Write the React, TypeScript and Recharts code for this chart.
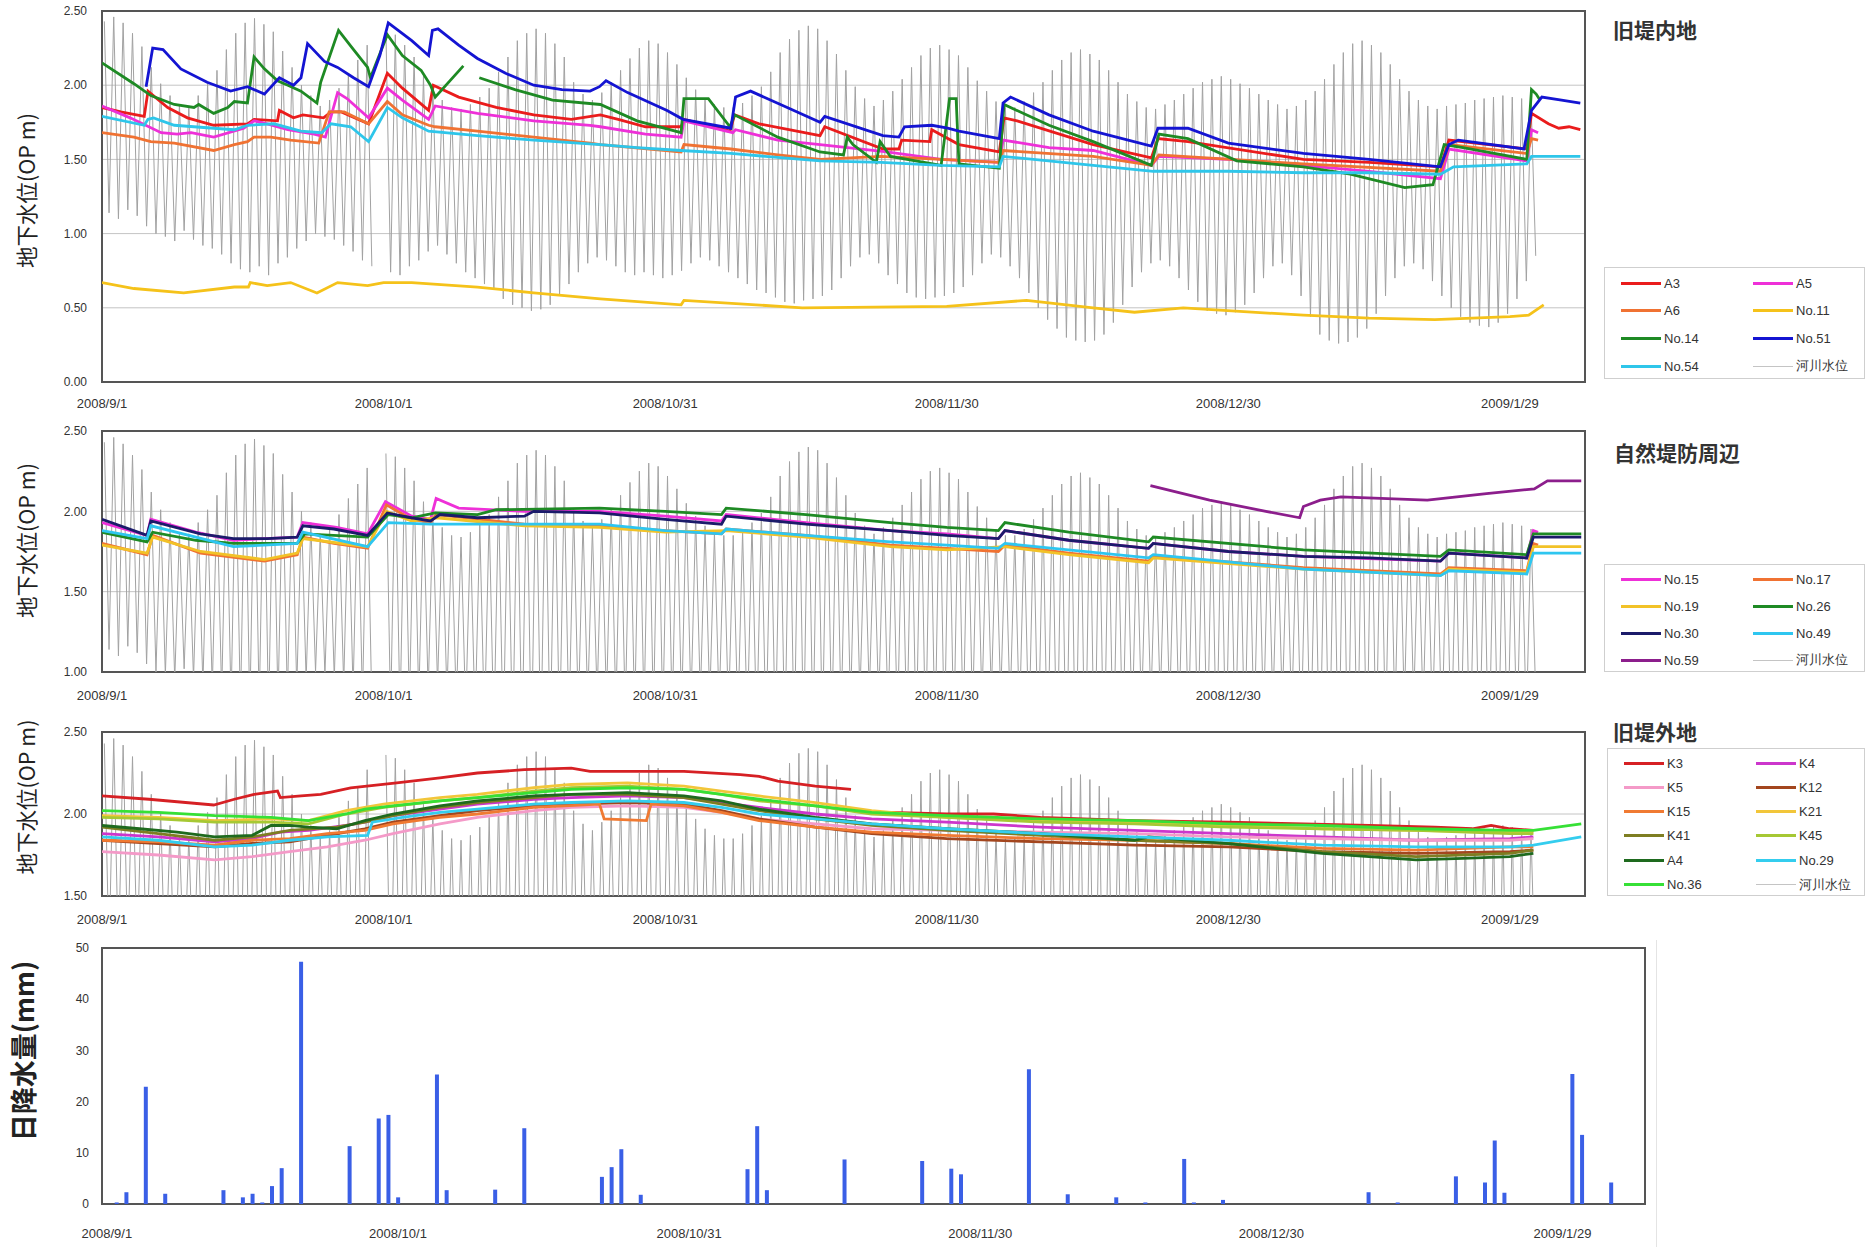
import React from 'react';
import { LineChart, Line, XAxis, YAxis, CartesianGrid, ReferenceArea, BarChart, Bar } from 'recharts';

// ---------- axis labels ----------
const dateTicks = [0, 30, 60, 90, 120, 150];
const dateLabels = ['2008/9/1', '2008/10/1', '2008/10/31', '2008/11/30', '2008/12/30', '2009/1/29'];
const yTicks1 = [0, 0.5, 1, 1.5, 2, 2.5];
const yTicks2 = [1, 1.5, 2, 2.5];
const yTicks3 = [1.5, 2, 2.5];
const rainTicks = [0, 10, 20, 30, 40, 50];

// ---------- river level (daily high / low, OP m), days 0..152 (day 29 missing) ----------
const riverHigh = [
  2.43, 2.46, 2.42, 2.35, 2.26, 2.12, 2.01, 1.93, 1.87, 1.86,
  1.93, 2.01, 2.10, 2.24, 2.35, 2.42, 2.45, 2.41, 2.36, 2.23,
  2.12, 2.00, 1.93, 1.86, 1.90, 1.98, 2.08, 2.17, 2.27, null,
  2.36, 2.34, 2.27, 2.19, 2.06, 1.98, 1.90, 1.85, 1.84, 1.87,
  1.92, 1.98, 2.09, 2.19, 2.30, 2.35, 2.38, 2.35, 2.28, 2.19,
  2.02, 1.94, 1.90, 1.95, 2.02, 2.10, 2.18, 2.25, 2.30, 2.28,
  2.22, 2.14, 2.05, 1.97, 1.91, 1.87, 1.85, 1.85, 1.88, 1.93,
  1.99, 2.09, 2.22, 2.31, 2.37, 2.40, 2.38, 2.30, 2.21, 2.10,
  1.99, 1.91, 1.86, 1.90, 1.96, 2.04, 2.12, 2.20, 2.25, 2.27,
  2.24, 2.20, 2.12, 2.03, 1.96, 1.89, 1.85, 1.85, 1.89, 1.95,
  2.02, 2.10, 2.17, 2.22, 2.24, 2.21, 2.17, 2.10, 2.02, 1.94,
  1.89, 1.85, 1.84, 1.87, 1.90, 1.94, 1.98, 2.02, 2.04, 2.06,
  2.04, 2.01, 1.98, 1.94, 1.90, 1.87, 1.84, 1.86, 1.90, 1.96,
  2.04, 2.14, 2.22, 2.28, 2.30, 2.27, 2.22, 2.14, 2.04, 1.96,
  1.90, 1.86, 1.84, 1.86, 1.87, 1.88, 1.90, 1.91, 1.92, 1.93,
  1.92, 1.91, 1.89,
];
const riverLow = [
  1.14, 1.10, 1.16, 1.12, 1.05, 1.00, 0.98, 0.95, 1.02, 0.96,
  0.92, 0.90, 0.86, 0.80, 0.76, 0.74, 0.78, 0.72, 0.80, 0.84,
  0.90, 0.95, 1.00, 0.98, 0.96, 0.92, 0.88, 0.82, 0.78, null,
  0.74, 0.72, 0.78, 0.82, 0.88, 0.92, 0.86, 0.80, 0.74, 0.70,
  0.66, 0.62, 0.56, 0.52, 0.50, 0.48, 0.49, 0.52, 0.58, 0.66,
  0.74, 0.80, 0.84, 0.82, 0.78, 0.74, 0.72, 0.74, 0.72, 0.70,
  0.72, 0.75, 0.80, 0.84, 0.82, 0.78, 0.74, 0.70, 0.66, 0.62,
  0.60, 0.57, 0.54, 0.53, 0.55, 0.56, 0.58, 0.62, 0.70, 0.78,
  0.84, 0.86, 0.80, 0.72, 0.66, 0.60, 0.57, 0.56, 0.57, 0.58,
  0.60, 0.64, 0.72, 0.80, 0.86, 0.84, 0.78, 0.70, 0.60, 0.50,
  0.42, 0.36, 0.30, 0.28, 0.27, 0.28, 0.32, 0.40, 0.52, 0.64,
  0.74, 0.80, 0.82, 0.78, 0.70, 0.62, 0.54, 0.48, 0.46, 0.45,
  0.47, 0.52, 0.60, 0.70, 0.78, 0.80, 0.72, 0.58, 0.44, 0.32,
  0.28, 0.26, 0.27, 0.30, 0.36, 0.46, 0.58, 0.70, 0.78, 0.80,
  0.76, 0.68, 0.58, 0.50, 0.44, 0.40, 0.38, 0.37, 0.40, 0.46,
  0.56, 0.68, 0.85,
];

// ---------- panel 1: 旧堤内地 ([day, OP m]) ----------
const A3 = [[0,1.85],[2,1.82],[4.5,1.79],[4.9,1.96],[7,1.85],[9.1,1.78],[11.9,1.73],[15.5,1.74],[16.2,1.77],[18.7,1.76],[18.9,1.83],[20.4,1.78],[21.4,1.8],[23.6,1.78],[24.4,1.82],[25.5,1.82],[28.4,1.74],[30.4,2.08],[32,1.98],[34.8,1.83],[35.3,2.0],[38,1.92],[42,1.85],[46,1.8],[50,1.77],[53.1,1.8],[55,1.77],[57.9,1.72],[61.7,1.72],[62,1.77],[66.9,1.69],[67.4,1.8],[70,1.74],[76.5,1.66],[77,1.72],[83.2,1.57],[84.9,1.57],[85.2,1.63],[88.2,1.62],[88.4,1.7],[91.3,1.6],[95.6,1.55],[96.1,1.78],[97.5,1.76],[105.6,1.6],[111.8,1.51],[112.5,1.64],[115.7,1.62],[128,1.5],[135,1.48],[142.6,1.45],[143.5,1.63],[151.8,1.57],[152.3,1.81],[154.1,1.74],[155.2,1.71],[156.3,1.72],[157.5,1.7]];
const A5 = [[0,1.86],[3,1.78],[6.3,1.68],[8,1.67],[9.5,1.68],[11.9,1.65],[15.1,1.71],[16.2,1.76],[17.6,1.74],[19.8,1.7],[22.6,1.67],[23.8,1.65],[25.1,1.95],[26.1,1.91],[28.4,1.78],[30.4,1.98],[32,1.9],[34.8,1.77],[35.5,1.86],[40,1.81],[46,1.76],[52,1.73],[53.1,1.72],[57.9,1.67],[61.7,1.65],[62,1.76],[67.2,1.68],[67.5,1.7],[72,1.63],[76.5,1.6],[83.6,1.55],[89.4,1.5],[95.6,1.48],[96,1.63],[100.9,1.58],[105.6,1.56],[111.8,1.46],[112.6,1.52],[120,1.5],[128,1.46],[135,1.42],[142.6,1.37],[143.5,1.57],[151.8,1.49],[152.3,1.7],[153,1.68]];
const A6 = [[0,1.68],[3.4,1.65],[5.2,1.62],[7.7,1.61],[11.9,1.56],[14.1,1.6],[15.5,1.62],[16.2,1.65],[18,1.65],[20.1,1.63],[23.1,1.61],[24.2,1.82],[25.8,1.82],[28.4,1.74],[30.4,1.89],[32,1.8],[34.8,1.73],[35.5,1.72],[40,1.69],[46,1.65],[52,1.61],[53.1,1.6],[61.7,1.55],[62,1.6],[67,1.57],[72,1.53],[76.5,1.5],[83,1.52],[89.4,1.5],[95.6,1.48],[96,1.56],[105.6,1.52],[111.8,1.46],[112.6,1.53],[128,1.47],[142.6,1.42],[143.5,1.6],[151.8,1.54],[152.3,1.64],[153,1.63]];
const No11 = [[0,0.67],[3.4,0.63],[8.7,0.6],[14.1,0.64],[15.6,0.64],[15.8,0.67],[17.6,0.65],[20.1,0.67],[22.9,0.6],[25.1,0.67],[28.3,0.65],[30,0.67],[33,0.67],[40,0.64],[46,0.6],[53.1,0.56],[61.7,0.52],[62,0.55],[74.6,0.5],[90,0.51],[98.5,0.55],[105.6,0.5],[110,0.47],[115.2,0.5],[128,0.45],[135,0.43],[142,0.42],[150,0.44],[152,0.45],[153.6,0.52]];
const No14 = [[0,2.15],[3.4,2.01],[5.2,1.93],[7.7,1.87],[9.8,1.85],[10.3,1.87],[11.9,1.81],[13.4,1.85],[14.1,1.89],[15.5,1.88],[16.2,2.19],[17.3,2.11],[18.7,2.03],[19.8,2.0],[21.2,1.96],[22.9,1.88],[23.3,2.02],[25.2,2.37],[26.8,2.24],[28.3,2.12],[28.6,2.05],[30.4,2.34],[32,2.2],[34,2.1],[35,2.0],[35.5,1.92],[38.5,2.13],[39,null],[40.2,2.05],[44,1.97],[48,1.9],[53.1,1.87],[57,1.76],[61.7,1.68],[62,1.91],[64.6,1.91],[66.9,1.72],[67.4,1.8],[72,1.65],[76.5,1.55],[79,1.53],[79.4,1.65],[80,1.6],[82.5,1.48],[82.9,1.62],[84,1.52],[89.4,1.46],[90.3,1.91],[91,1.91],[91.3,1.47],[95.6,1.44],[96.1,1.87],[100.9,1.73],[105.6,1.62],[111.8,1.46],[112.6,1.67],[115.7,1.64],[120.9,1.49],[128,1.45],[133,1.4],[138.8,1.31],[141.8,1.33],[143,1.6],[145,1.58],[151.8,1.5],[152.3,1.97],[152.8,1.94],[153.2,1.9]];
const No51 = [[4.7,1.99],[5.4,2.25],[6.5,2.24],[8.4,2.11],[11.2,2.02],[13.7,1.96],[15.5,1.99],[17.3,1.94],[18.9,2.05],[20.4,2.0],[21.2,2.05],[21.9,2.28],[23.7,2.16],[25.1,2.12],[26.8,2.05],[28.4,1.99],[29.6,2.2],[30.5,2.42],[33,2.3],[34.8,2.2],[35.2,2.37],[35.8,2.38],[38,2.27],[40,2.18],[43,2.08],[46,2.0],[49,1.97],[52,1.96],[53,1.99],[53.7,2.03],[56,1.95],[60.2,1.83],[61.9,1.77],[67,1.71],[67.5,1.92],[69.1,1.96],[73,1.85],[76.5,1.75],[77,1.79],[83.2,1.66],[84.9,1.65],[85.5,1.72],[88.4,1.73],[90.1,1.71],[91.3,1.69],[95.6,1.64],[96,1.88],[96.8,1.92],[100.9,1.8],[105.6,1.69],[111.8,1.59],[112.5,1.71],[115.7,1.71],[120,1.61],[128,1.54],[135,1.5],[142.6,1.45],[143.5,1.6],[144.5,1.63],[151.5,1.57],[152.3,1.83],[153.4,1.92],[155.5,1.9],[157.5,1.88]];
const No54 = [[0,1.79],[4.5,1.73],[4.9,1.77],[5.5,1.78],[7.7,1.73],[11.9,1.71],[14.1,1.7],[15.5,1.73],[18.3,1.74],[21.2,1.69],[23.4,1.68],[24.4,1.74],[26.5,1.72],[28.4,1.62],[30.4,1.85],[32,1.78],[34.8,1.69],[40,1.66],[46,1.63],[53.1,1.6],[57,1.58],[61.7,1.56],[67,1.54],[76.5,1.49],[83,1.48],[89.4,1.46],[95.6,1.45],[96,1.52],[105.6,1.46],[112,1.42],[120,1.42],[128,1.41],[135,1.41],[142.6,1.4],[144,1.45],[151.8,1.47],[152.3,1.52],[157.5,1.52]];

// ---------- panel 2: 自然堤防周辺 ----------
const No15 = [[0,1.93],[4.8,1.85],[5.2,1.95],[10,1.87],[14,1.82],[20.8,1.84],[21.4,1.93],[25,1.9],[28.3,1.86],[30.2,2.06],[33,1.97],[35,1.95],[35.6,2.08],[38,2.02],[45,2.0],[53,2.0],[60,1.97],[66,1.94],[66.5,1.98],[75,1.93],[84,1.88],[90,1.86],[95.5,1.83],[96.2,1.88],[103,1.82],[111.5,1.77],[112,1.8],[120,1.75],[128,1.72],[142.6,1.69],[143.5,1.74],[151.8,1.71],[152.5,1.88],[153,1.87]];
const No17 = [[0,1.8],[4.8,1.73],[5.4,1.85],[10.5,1.74],[17.3,1.69],[20.8,1.73],[21.4,1.84],[24.7,1.8],[28.3,1.77],[30.3,2.04],[33,1.95],[35,1.93],[35.6,1.98],[45,1.92],[53,1.91],[60,1.88],[66,1.86],[66.5,1.89],[75,1.85],[84,1.79],[90,1.77],[95.5,1.75],[96.2,1.79],[103,1.74],[111.5,1.69],[112,1.72],[128,1.65],[142.6,1.61],[143.5,1.65],[151.8,1.63],[152.5,1.8],[153,1.79]];
const No19 = [[0,1.79],[4.8,1.74],[5.4,1.84],[10.5,1.75],[17.3,1.7],[20.8,1.74],[21.4,1.83],[28.3,1.78],[30.3,2.0],[33,1.94],[35.6,1.96],[45,1.91],[53,1.9],[60,1.87],[66.5,1.88],[75,1.84],[84,1.78],[90,1.76],[96.2,1.78],[103,1.73],[111.5,1.68],[112,1.71],[128,1.64],[142.6,1.6],[143.5,1.64],[151.8,1.62],[152.5,1.78],[157.6,1.78]];
const No26 = [[0,1.87],[4.8,1.81],[5.4,1.87],[10,1.82],[14,1.8],[20.8,1.8],[21.6,1.86],[28.3,1.84],[30.5,1.98],[33,1.96],[35.5,1.99],[40,1.98],[42,2.01],[53,2.02],[60,2.0],[66,1.98],[66.5,2.02],[75,1.98],[84,1.93],[90,1.9],[95.5,1.88],[96.2,1.93],[103,1.87],[111.5,1.81],[112,1.84],[128,1.76],[142.6,1.72],[143.5,1.76],[151.8,1.73],[152.5,1.86],[157.6,1.86]];
const No30 = [[0,1.95],[4.8,1.85],[5.2,1.94],[10.5,1.86],[14,1.83],[17.6,1.83],[20.8,1.84],[21.4,1.91],[24.7,1.89],[28.3,1.85],[30.4,1.99],[33,1.96],[35,1.94],[36,1.98],[40,1.96],[45,1.97],[46,2.0],[53,1.99],[60,1.95],[66,1.92],[66.5,1.97],[75,1.92],[84,1.88],[90,1.85],[95.5,1.83],[96.2,1.88],[103,1.82],[111.5,1.77],[112,1.8],[120,1.75],[128,1.72],[135,1.71],[142.6,1.69],[143.5,1.74],[151.8,1.71],[152.5,1.84],[157.6,1.84]];
const No49 = [[0,1.88],[4.8,1.83],[5.2,1.91],[14,1.78],[20.8,1.8],[21.4,1.87],[28.3,1.78],[30.5,1.93],[35,1.92],[45,1.92],[53,1.92],[60,1.88],[66,1.86],[66.5,1.89],[75,1.85],[84,1.81],[90,1.79],[95.5,1.77],[96.2,1.8],[111.5,1.71],[112,1.73],[128,1.64],[142.6,1.6],[143.5,1.63],[151.8,1.61],[152.5,1.74],[157.6,1.74]];
const No59 = [[111.7,2.16],[118,2.07],[124,2.0],[127.6,1.96],[128,2.03],[129.8,2.07],[132,2.09],[141.2,2.07],[147.5,2.11],[152.6,2.14],[154,2.19],[157.6,2.19]];

// ---------- panel 3: 旧堤外地 ----------
const K3 = [[0,2.11],[5,2.09],[11.9,2.055],[14.1,2.09],[16.2,2.12],[18.7,2.14],[19,2.1],[21.2,2.11],[23.3,2.12],[26.5,2.16],[31.4,2.19],[36,2.22],[40,2.25],[45,2.27],[50,2.28],[52,2.26],[56,2.26],[62,2.26],[68,2.24],[70,2.23],[72,2.2],[76,2.17],[79.8,2.15],[82,null],[84,2.01],[90,2.0],[95,2.0],[100,1.98],[110,1.96],[120,1.95],[128,1.94],[135,1.93],[142,1.92],[146,1.91],[148,1.93],[150,1.91],[152.5,1.9]];
const K4 = [[0,1.88],[6,1.86],[12,1.83],[16,1.85],[19,1.89],[22,1.9],[26,1.93],[28,1.95],[31,1.99],[36,2.03],[40,2.06],[46,2.09],[50,2.1],[56,2.11],[62,2.1],[66,2.07],[70,2.04],[76,2.0],[82,1.97],[90,1.95],[100,1.92],[110,1.9],[120,1.88],[130,1.86],[140,1.84],[150,1.85],[152.5,1.86]];
const K5 = [[0,1.77],[6,1.75],[12,1.72],[16,1.74],[20,1.77],[24,1.8],[28,1.84],[31,1.88],[36,1.94],[40,1.98],[46,2.02],[50,2.04],[56,2.05],[62,2.04],[66,2.01],[70,1.97],[76,1.94],[82,1.91],[90,1.9],[100,1.89],[110,1.88],[120,1.86],[130,1.85],[140,1.84],[150,1.84],[152.5,1.85]];
const K12 = [[0,1.84],[6,1.82],[12,1.8],[16,1.82],[20,1.83],[24,1.87],[28,1.91],[31,1.95],[36,1.99],[40,2.02],[46,2.05],[50,2.06],[56,2.07],[62,2.06],[66,2.02],[70,1.97],[76,1.92],[82,1.88],[90,1.85],[100,1.83],[110,1.81],[120,1.8],[130,1.77],[140,1.76],[150,1.77],[152.5,1.78]];
const K15 = [[0,1.84],[6,1.83],[12,1.81],[16,1.84],[20,1.85],[24,1.88],[28,1.9],[31,1.94],[36,1.98],[40,2.0],[46,2.04],[53,2.06],[53.5,1.97],[58,1.96],[58.5,2.06],[62,2.05],[66,2.01],[70,1.96],[76,1.92],[82,1.89],[90,1.87],[100,1.85],[110,1.84],[120,1.82],[130,1.79],[140,1.78],[150,1.8],[152.5,1.8]];
const K21 = [[0,1.99],[6,1.98],[12,1.96],[18,1.97],[22,1.96],[26,2.02],[30,2.06],[36,2.1],[40,2.12],[46,2.16],[50,2.18],[56,2.19],[62,2.17],[66,2.14],[70,2.11],[76,2.07],[82,2.02],[90,1.98],[100,1.96],[110,1.95],[120,1.93],[130,1.91],[140,1.9],[150,1.89],[152.5,1.89]];
const K41 = [[0,1.92],[6,1.88],[12,1.84],[16,1.86],[20,1.9],[25,1.92],[28,1.95],[31,1.99],[36,2.04],[40,2.07],[46,2.1],[50,2.12],[56,2.12],[62,2.1],[66,2.06],[70,2.02],[76,1.97],[82,1.93],[90,1.9],[100,1.87],[110,1.84],[120,1.82],[130,1.77],[140,1.74],[150,1.76],[152.5,1.78]];
const K45 = [[0,1.98],[6,1.97],[12,1.95],[18,1.95],[22,1.94],[26,2.0],[30,2.04],[36,2.08],[40,2.1],[46,2.14],[50,2.16],[56,2.17],[62,2.15],[66,2.12],[70,2.08],[76,2.05],[82,2.0],[90,1.98],[100,1.95],[110,1.94],[120,1.92],[130,1.91],[140,1.9],[150,1.88],[152.5,1.88]];
const A4 = [[0,1.93],[4,1.91],[8,1.89],[12,1.86],[16,1.87],[18,1.93],[20,1.93],[22,1.92],[25,1.91],[28,1.96],[31,2.0],[36,2.05],[40,2.08],[46,2.11],[50,2.12],[56,2.13],[62,2.11],[66,2.08],[70,2.03],[76,1.98],[82,1.94],[90,1.91],[100,1.88],[110,1.84],[111.5,1.86],[120,1.82],[130,1.76],[140,1.72],[145,1.73],[150,1.74],[152.5,1.76]];
const No29 = [[0,1.86],[6,1.84],[12,1.8],[16,1.81],[20,1.84],[24,1.86],[28.3,1.87],[28.8,1.95],[32,1.98],[36,2.01],[40,2.03],[46,2.06],[50,2.07],[56,2.08],[62,2.07],[66,2.04],[70,2.0],[76,1.97],[82,1.94],[90,1.91],[100,1.88],[110,1.86],[120,1.84],[130,1.81],[140,1.8],[150,1.8],[152.5,1.81],[157.6,1.86]];
const No36 = [[0,2.02],[6,2.01],[12,1.99],[18,1.98],[22,1.96],[26,2.0],[28,2.03],[31,2.05],[36,2.08],[40,2.1],[46,2.13],[50,2.15],[56,2.16],[62,2.15],[66,2.12],[70,2.09],[76,2.05],[82,2.01],[90,1.99],[100,1.97],[110,1.96],[120,1.94],[130,1.93],[140,1.91],[150,1.9],[152.5,1.9],[157.6,1.94]];

// ---------- rainfall (day index from 2008/9/1, mm) ----------
const rainDays = [1, 2, 4, 6, 12, 14, 15, 16, 17, 18, 20, 25, 28, 29, 30, 34, 35, 40, 43, 51, 52, 53, 55, 66, 67, 68, 76, 84, 87, 88, 95, 99, 104, 107, 111, 112, 115, 130, 133, 139, 142, 143, 144, 151, 152, 155];
const rainMm = [0.3, 2.3, 22.9, 2.0, 2.7, 1.3, 2.0, 0.3, 3.5, 7.0, 47.3, 11.3, 16.7, 17.4, 1.3, 25.3, 2.7, 2.8, 14.8, 5.3, 7.2, 10.7, 1.8, 6.8, 15.2, 2.7, 8.7, 8.4, 6.9, 5.8, 26.3, 1.9, 1.3, 0.3, 8.8, 0.3, 0.8, 2.3, 0.3, 5.4, 4.2, 12.4, 2.2, 25.4, 13.5, 4.2];

const RIVER_COLOR = '#a2a2a2';
const riverName = '河川水位';

type Series = { name: string; color: string; pts: (number | null)[][] };

const panel1: Series[] = [
  { name: 'A3', color: '#ea1c1c', pts: A3 },
  { name: 'A5', color: '#ee30d8', pts: A5 },
  { name: 'A6', color: '#f07232', pts: A6 },
  { name: 'No.11', color: '#f5c21a', pts: No11 },
  { name: 'No.14', color: '#1e8a24', pts: No14 },
  { name: 'No.51', color: '#1414d2', pts: No51 },
  { name: 'No.54', color: '#2ec6ea', pts: No54 },
];
const panel2: Series[] = [
  { name: 'No.15', color: '#ee30d8', pts: No15 },
  { name: 'No.17', color: '#f07232', pts: No17 },
  { name: 'No.19', color: '#f2c228', pts: No19 },
  { name: 'No.26', color: '#1e8a24', pts: No26 },
  { name: 'No.30', color: '#1b1b6a', pts: No30 },
  { name: 'No.49', color: '#2ec6f0', pts: No49 },
  { name: 'No.59', color: '#8c1e8c', pts: No59 },
];
const panel3: Series[] = [
  { name: 'K3', color: '#d62024', pts: K3 },
  { name: 'K4', color: '#cc36cc', pts: K4 },
  { name: 'K5', color: '#f49ac8', pts: K5 },
  { name: 'K12', color: '#a3461e', pts: K12 },
  { name: 'K15', color: '#f07a32', pts: K15 },
  { name: 'K21', color: '#f2c63a', pts: K21 },
  { name: 'K41', color: '#7e7e22', pts: K41 },
  { name: 'K45', color: '#a6c834', pts: K45 },
  { name: 'A4', color: '#1e6a1e', pts: A4 },
  { name: 'No.29', color: '#34cdee', pts: No29 },
  { name: 'No.36', color: '#36e036', pts: No36 },
];

const riverData = riverHigh.flatMap((h, i) => [
  { d: i + 0.25, v: h },
  { d: i + 0.75, v: riverLow[i] },
]);

const rainTable = Array.from({ length: 159 }, (_, i) => {
  const k = rainDays.indexOf(i);
  return { day: i, mm: k >= 0 ? rainMm[k] : 0 };
});

const FONT = "'Liberation Sans', Arial, sans-serif";
const CJK = "'Noto Sans CJK JP', 'Noto Sans CJK SC', sans-serif";
const fmtDate = (v: number) => {
  const k = dateTicks.indexOf(v);
  return k >= 0 ? dateLabels[k] : '';
};

const yTitle = (text: string, cx: number, fontSize: number, dy: number, bold = false) => (props: any) => {
  const vb = props.viewBox || {};
  const cy = vb.y + vb.height / 2 + dy;
  return (
    <text x={cx} y={cy} transform={`rotate(-90 ${cx} ${cy})`} textAnchor="middle" dominantBaseline="central"
      fontFamily={CJK} fontSize={fontSize} fill="#222" fontWeight={bold ? 700 : 400}>{text}</text>
  );
};

type PanelProps = {
  top: number; height: number; series: Series[]; domain: [number, number]; yTicks: number[]; xMargin: number; titleDy: number;
};

const GWPanel = ({ top, height, series, domain, yTicks, xMargin, titleDy }: PanelProps) => (
  <div style={{ position: 'absolute', left: 0, top }}>
    <LineChart width={1600} height={height} margin={{ top: 11, right: 15, bottom: 0, left: 0 }}>
      <CartesianGrid vertical={false} stroke="#c4c4c4" strokeWidth={1} />
      <XAxis dataKey="d" type="number" domain={[0, 158]} ticks={dateTicks} allowDataOverflow
        tickFormatter={fmtDate} axisLine={false} tickLine={false} tickSize={0} tickMargin={xMargin} height={40}
        tick={{ fontSize: 13, fill: '#333', fontFamily: FONT }} interval={0} />
      <YAxis type="number" domain={domain} ticks={yTicks} allowDataOverflow width={102}
        tickFormatter={(v: number) => v.toFixed(2)} axisLine={false} tickLine={false} tickSize={0} tickMargin={15}
        tick={{ fontSize: 12, fill: '#333', fontFamily: FONT }}
        label={{ content: yTitle('地下水位(OP m)', 25, 21.5, titleDy) }} />
      <Line data={riverData} dataKey="v" name={riverName} stroke={RIVER_COLOR} strokeWidth={1} dot={false}
        isAnimationActive={false} legendType="none" />
      {series.map((s) => (
        <Line key={s.name} data={s.pts.map(([d, v]) => ({ d, v }))} dataKey="v" name={s.name} stroke={s.color}
          strokeWidth={2.8} dot={false} isAnimationActive={false} />
      ))}
      <ReferenceArea x1={0} x2={158} y1={domain[0]} y2={domain[1]} fill="none" stroke="#555" strokeWidth={2}
        ifOverflow="visible" />
    </LineChart>
  </div>
);

type LegendProps = { left: number; top: number; height: number; series: Series[]; rowGap: number; firstRow: number };
const LegendBox = ({ left, top, height, series, rowGap, firstRow }: LegendProps) => {
  const items = [...series.map((s) => ({ name: s.name, color: s.color, river: false })), { name: riverName, color: '#c4c4c4', river: true }];
  return (
    <div style={{ position: 'absolute', left, top, width: 1865 - left, height, border: '1px solid #cfcfcf', boxSizing: 'border-box', background: '#fff' }}>
      {items.map((it, i) => {
        const col = i % 2;
        const row = Math.floor(i / 2);
        const x = col === 0 ? 16 : 148;
        const y = firstRow + row * rowGap;
        return (
          <div key={it.name} style={{ position: 'absolute', left: x, top: y - 8, height: 16, display: 'flex', alignItems: 'center' }}>
            <div style={{ width: 40, height: it.river ? 1 : 3, background: it.color }} />
            <span style={{ marginLeft: 3, fontFamily: FONT, fontSize: 13, color: '#333' }}>{it.name}</span>
          </div>
        );
      })}
    </div>
  );
};

const Title = ({ text, left, top }: { text: string; left: number; top: number }) => (
  <div style={{ position: 'absolute', left, top, fontFamily: CJK, fontSize: 21, fontWeight: 700, color: '#333', lineHeight: '22px', whiteSpace: 'nowrap' }}>{text}</div>
);

export default function App() {
  return (
    <div style={{ position: 'absolute', left: 0, top: 0, width: 1866, height: 1247, background: '#fff', overflow: 'hidden' }}>
      <GWPanel top={0} height={422} series={panel1} domain={[0, 2.5]} yTicks={yTicks1} xMargin={17} titleDy={-6} />
      <GWPanel top={420} height={292} series={panel2} domain={[1, 2.5]} yTicks={yTicks2} xMargin={19} titleDy={-11} />
      <GWPanel top={721} height={215} series={panel3} domain={[1.5, 2.5]} yTicks={yTicks3} xMargin={19} titleDy={-17} />

      <Title text="旧堤内地" left={1613} top={18} />
      <Title text="自然堤防周辺" left={1614} top={441} />
      <Title text="旧堤外地" left={1613} top={720} />

      <LegendBox left={1604} top={267} height={112} series={panel1} rowGap={27.7} firstRow={15} />
      <LegendBox left={1604} top={564} height={108} series={panel2} rowGap={27} firstRow={14} />
      <LegendBox left={1607} top={748} height={148} series={panel3} rowGap={24.3} firstRow={14} />

      <div style={{ position: 'absolute', left: 0, top: 937 }}>
        <BarChart width={1660} height={307} data={rainTable} margin={{ top: 11, right: 15, bottom: 0, left: 0 }} barCategoryGap={0}>
          <XAxis dataKey="day" type="category" interval={29} tickFormatter={fmtDate} axisLine={false} tickLine={false}
            tickSize={0} tickMargin={25} height={40} tick={{ fontSize: 13, fill: '#333', fontFamily: FONT }} />
          <YAxis type="number" domain={[0, 50]} ticks={rainTicks} width={102} axisLine={false} tickLine={false}
            tickSize={0} tickMargin={13} tick={{ fontSize: 12, fill: '#333', fontFamily: FONT }}
            label={{ content: yTitle('日降水量(mm)', 22, 27, -25, true) }} />
          <Bar dataKey="mm" fill="#3a5fe6" barSize={4} isAnimationActive={false} />
          <ReferenceArea x1={0} x2={158} y1={0} y2={50} fill="none" stroke="#555" strokeWidth={2} ifOverflow="visible" />
        </BarChart>
      </div>
      <div style={{ position: 'absolute', left: 1656, top: 940, width: 1, height: 307, background: '#e4e4e4' }} />
    </div>
  );
}
